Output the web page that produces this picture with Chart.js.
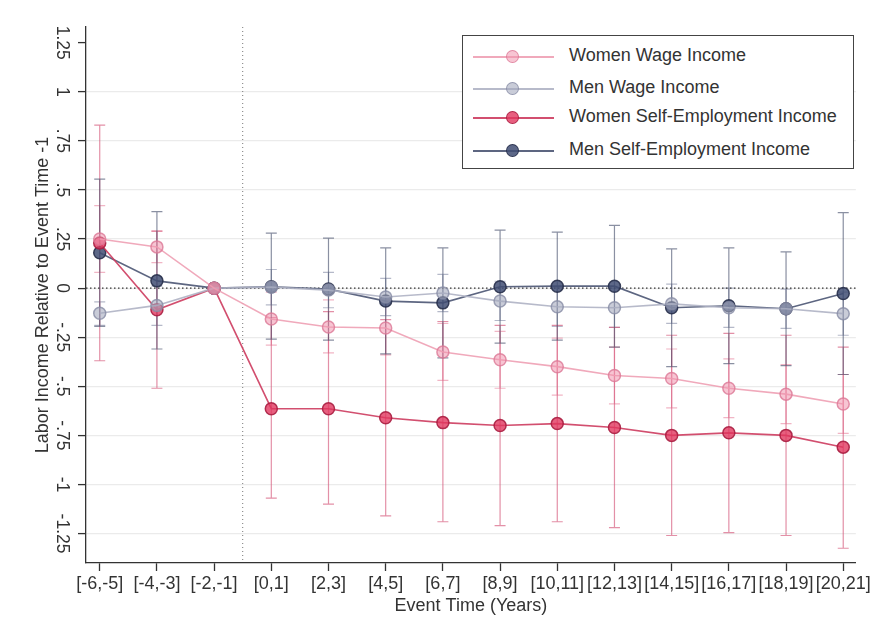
<!DOCTYPE html>
<html>
<head>
<meta charset="utf-8">
<script src="https://cdn.jsdelivr.net/npm/chart.js@4"></script>
<style>
  html, body { margin: 0; padding: 0; background: #fff; }
  #wrap { position: relative; width: 873px; height: 639px; }
  #legend {
    position: absolute; left: 462px; top: 35px; width: 390px; height: 132px;
    border: 1px solid #444; background: #fff;
    font-family: "Liberation Sans", Arial, sans-serif; font-size: 18px; color: #333;
  }
  .row { position: absolute; left: 0; height: 20px; width: 100%; }
  .row .ln { position: absolute; left: 10px; width: 81px; top: 9px; height: 1.5px; }
  .row .mk { position: absolute; left: 43px; top: 3px; width: 11px; height: 11px; border-radius: 50%; border: 1.5px solid; }
  .row .tx { position: absolute; left: 106px; top: -2px; white-space: nowrap; }
</style>
</head>
<body>
<div id="wrap">
  <canvas id="chart" width="873" height="639"></canvas>
  <div id="legend"></div>
</div>
<script>
// Categories and tick labels
const categories = ['[-6,-5]', '[-4,-3]', '[-2,-1]', '[0,1]', '[2,3]', '[4,5]', '[6,7]',
  '[8,9]', '[10,11]', '[12,13]', '[14,15]', '[16,17]', '[18,19]', '[20,21]'];
const yTickValues = [-1.25, -1, -0.75, -0.5, -0.25, 0, 0.25, 0.5, 0.75, 1, 1.25];
const yTickLabels = ['-1.25', '-1', '-.75', '-.5', '-.25', '0', '.25', '.5', '.75', '1', '1.25'];

// Point estimates
const womenWage = [0.25, 0.21, 0, -0.157, -0.198, -0.203, -0.325, -0.365, -0.40, -0.445, -0.46, -0.51, -0.54, -0.59];
const menWage = [-0.128, -0.088, 0, 0.005, -0.01, -0.045, -0.025, -0.066, -0.095, -0.10, -0.08, -0.10, -0.105, -0.13];
const womenSelf = [0.23, -0.11, 0, -0.614, -0.614, -0.66, -0.685, -0.70, -0.69, -0.71, -0.75, -0.737, -0.75, -0.81];
const menSelf = [0.18, 0.037, 0, 0.007, -0.005, -0.066, -0.075, 0.007, 0.01, 0.01, -0.10, -0.09, -0.105, -0.027];

// Confidence intervals (lower / upper)
const womenWageLo = [0.08, 0.13, null, -0.29, -0.33, -0.34, -0.47, -0.51, -0.545, -0.59, -0.61, -0.66, -0.69, -0.74];
const womenWageHi = [0.42, 0.29, null, -0.02, -0.06, -0.06, -0.18, -0.22, -0.255, -0.30, -0.31, -0.36, -0.39, -0.44];
const menWageLo = [-0.19, -0.19, null, -0.085, -0.10, -0.14, -0.12, -0.165, -0.195, -0.20, -0.18, -0.20, -0.205, -0.24];
const menWageHi = [-0.07, 0.01, null, 0.095, 0.08, 0.05, 0.07, 0.035, 0.005, 0.0, 0.02, 0.0, -0.005, -0.02];
const womenSelfLo = [-0.37, -0.51, null, -1.07, -1.10, -1.16, -1.19, -1.21, -1.19, -1.22, -1.26, -1.245, -1.26, -1.325];
const womenSelfHi = [0.83, 0.29, null, -0.15, -0.12, -0.16, -0.17, -0.19, -0.19, -0.20, -0.24, -0.23, -0.24, -0.30];
const menSelfLo = [-0.195, -0.31, null, -0.26, -0.265, -0.335, -0.355, -0.28, -0.265, -0.30, -0.40, -0.385, -0.395, -0.44];
const menSelfHi = [0.555, 0.39, null, 0.28, 0.255, 0.205, 0.205, 0.295, 0.285, 0.32, 0.20, 0.205, 0.185, 0.385];

const FONT = "'Liberation Sans', Arial, sans-serif";

const series = [
  { label: 'Women Wage Income', values: womenWage, lo: womenWageLo, hi: womenWageHi,
    line: 'rgba(238,160,180,0.9)', fill: 'rgba(240,150,175,0.55)', border: 'rgba(220,120,150,0.8)', bar: 'rgba(235,150,172,0.7)' },
  { label: 'Men Wage Income', values: menWage, lo: menWageLo, hi: menWageHi,
    line: 'rgba(175,179,196,0.9)', fill: 'rgba(165,170,190,0.6)', border: 'rgba(135,140,165,0.8)', bar: 'rgba(150,155,178,0.7)' },
  { label: 'Women Self-Employment Income', values: womenSelf, lo: womenSelfLo, hi: womenSelfHi,
    line: 'rgba(205,60,95,0.9)', fill: 'rgba(225,55,95,0.8)', border: 'rgba(170,30,65,0.9)', bar: 'rgba(212,85,120,0.65)' },
  { label: 'Men Self-Employment Income', values: menSelf, lo: menSelfLo, hi: menSelfHi,
    line: 'rgba(75,85,115,0.9)', fill: 'rgba(65,78,115,0.85)', border: 'rgba(40,48,75,0.9)', bar: 'rgba(60,70,100,0.6)' }
];

// Error bars, zero line and event line, drawn through the chart scales
const refLines = {
  id: 'refLines',
  beforeDatasetsDraw(chart) {
    const { ctx, chartArea, scales: { x, y } } = chart;
    ctx.save();
    chart.data.datasets.forEach((ds, di) => {
      const s = series[di];
      ctx.strokeStyle = s.bar;
      ctx.lineWidth = 1.2;
      s.lo.forEach((lo, i) => {
        const hi = s.hi[i];
        if (lo === null || hi === null) return;
        const px = x.getPixelForValue(i);
        const py1 = y.getPixelForValue(lo);
        const py2 = y.getPixelForValue(hi);
        ctx.beginPath();
        ctx.moveTo(px, py1); ctx.lineTo(px, py2);
        ctx.moveTo(px - 5.5, py1); ctx.lineTo(px + 5.5, py1);
        ctx.moveTo(px - 5.5, py2); ctx.lineTo(px + 5.5, py2);
        ctx.stroke();
      });
    });
    // dotted zero line and vertical event line
    ctx.strokeStyle = '#333';
    ctx.lineWidth = 1.4;
    ctx.setLineDash([1.5, 2.5]);
    const y0 = y.getPixelForValue(0);
    ctx.beginPath();
    ctx.moveTo(chartArea.left, y0); ctx.lineTo(chartArea.right, y0);
    ctx.stroke();
    ctx.strokeStyle = '#777';
    ctx.lineWidth = 1;
    ctx.setLineDash([1, 3]);
    const xv = x.getPixelForValue(2.5);
    ctx.beginPath();
    ctx.moveTo(xv, chartArea.top); ctx.lineTo(xv, chartArea.bottom);
    ctx.stroke();
    ctx.restore();
  }
};

const ctx = document.getElementById('chart').getContext('2d');
const chart = new Chart(ctx, {
  type: 'line',
  data: {
    datasets: series.map(s => ({
      label: s.label,
      data: s.values.map((v, i) => ({ x: i, y: v })),
      borderColor: s.line,
      borderWidth: 1.6,
      pointRadius: 6,
      pointBorderWidth: 1.5,
      pointBackgroundColor: s.fill,
      pointBorderColor: s.border,
      tension: 0,
      fill: false
    }))
  },
  options: {
    responsive: false,
    animation: false,
    layout: { padding: { top: 27, right: 15, left: 0, bottom: 0 } },
    plugins: {
      legend: { display: false },
      tooltip: { enabled: false }
    },
    scales: {
      x: {
        type: 'linear',
        min: -0.24,
        max: 13.22,
        afterBuildTicks: axis => { axis.ticks = categories.map((c, i) => ({ value: i })); },
        afterFit: axis => { axis.height = 76; },
        ticks: {
          autoSkip: false,
          maxRotation: 0,
          padding: 2,
          color: '#333',
          font: { family: FONT, size: 18 },
          callback: v => categories[v]
        },
        grid: { drawOnChartArea: false, tickLength: 8, tickColor: '#333', tickWidth: 1.3 },
        border: { color: '#333', width: 1.3 },
        title: {
          display: true,
          text: 'Event Time (Years)',
          color: '#333',
          font: { family: FONT, size: 18 },
          padding: { top: 0, bottom: 22 }
        }
      },
      y: {
        type: 'linear',
        min: -1.4,
        max: 1.33,
        afterBuildTicks: axis => { axis.ticks = yTickValues.map(v => ({ value: v })); },
        afterFit: axis => { axis.width = 86; },
        ticks: {
          minRotation: -90,
          maxRotation: -90,
          crossAlign: 'center',
          padding: -4,
          color: '#333',
          font: { family: FONT, size: 17.5 },
          callback: v => yTickLabels[yTickValues.indexOf(v)]
        },
        grid: {
          color: c => (c.tick && c.tick.value === 1.25) ? 'rgba(0,0,0,0)' : '#ebebeb',
          lineWidth: 1.2,
          tickLength: 8,
          tickColor: '#333',
          tickWidth: 1.3
        },
        border: { color: '#333', width: 1.3 },
        title: {
          display: true,
          text: 'Labor Income Relative to Event Time -1',
          color: '#333',
          font: { family: FONT, size: 18 },
          padding: { top: 32, bottom: 0 }
        }
      }
    }
  },
  plugins: [refLines]
});

// Legend box, from the same series list
const legend = document.getElementById('legend');
const rowTops = [11, 43, 72, 105];
series.forEach((s, i) => {
  const row = document.createElement('div');
  row.className = 'row';
  row.style.top = rowTops[i] + 'px';
  row.innerHTML = '<div class="ln" style="background:' + s.line + '"></div>' +
    '<div class="mk" style="background:' + s.fill + ';border-color:' + s.border + '"></div>' +
    '<div class="tx">' + s.label + '</div>';
  legend.appendChild(row);
});
</script>
</body>
</html>
